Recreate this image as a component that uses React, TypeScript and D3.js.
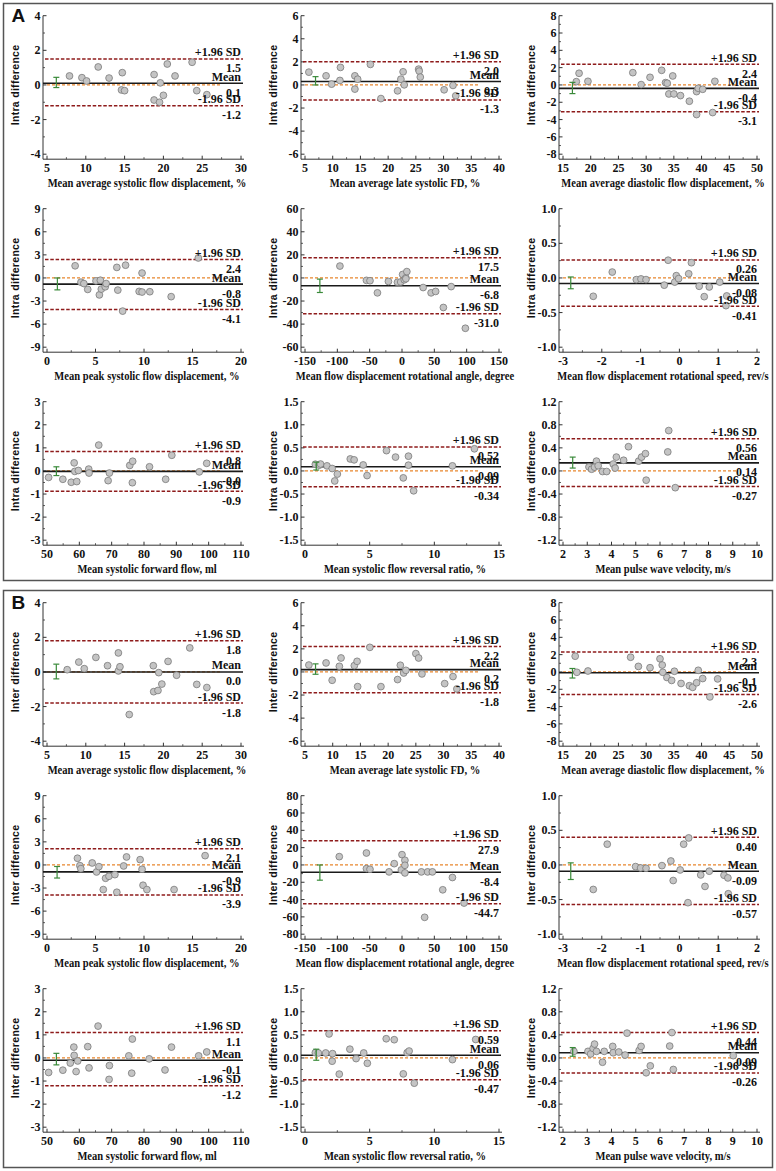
import React from 'react';
import * as d3 from 'd3';

// ---- measurements (one per column/row position, same order in A and B) ----
const xTitles = [
  'Mean average systolic flow displacement, %',
  'Mean average late systolic FD, %',
  'Mean average diastolic flow displacement, %',
  'Mean peak systolic flow displacement, %',
  'Mean flow displacement rotational angle, degree',
  'Mean flow displacement rotational speed, rev/s',
  'Mean systolic forward flow, ml',
  'Mean systolic flow reversal ratio, %',
  'Mean pulse wave velocity, m/s',
];
const xDomains = [[5, 30], [5, 40], [15, 50], [0, 20], [-150, 150], [-3, 2], [50, 110], [0, 15], [2, 10]];
const xSteps = [5, 5, 5, 5, 50, 1, 10, 5, 1];
const yMaxIntra = [4, 6, 8, 9, 60, 1, 3, 1.5, 1.2];
const yMaxInter = [4, 6, 8, 9, 80, 1, 3, 1.5, 1.2];
const ySteps = [2, 2, 2, 3, 20, 0.5, 1, 0.5, 0.4];
const valueDecimals = [1, 1, 1, 1, 1, 2, 1, 2, 2];

// ---- limits of agreement: [+1.96 SD, mean, -1.96 SD] ----
const intraLimits = [
  [1.5, 0.1, -1.2], [2.0, 0.3, -1.3], [2.4, -0.4, -3.1],
  [2.4, -0.8, -4.1], [17.5, -6.8, -31.0], [0.26, -0.08, -0.41],
  [0.84, -0.02, -0.88], [0.52, 0.09, -0.34], [0.56, 0.14, -0.27],
];
const interLimits = [
  [1.8, 0.0, -1.8], [2.2, 0.2, -1.8], [2.3, -0.1, -2.6],
  [2.1, -0.9, -3.9], [27.9, -8.4, -44.7], [0.40, -0.09, -0.57],
  [1.1, -0.1, -1.2], [0.59, 0.06, -0.47], [0.44, 0.09, -0.26],
];

// ---- 95% CI of the mean bias: [x position, low, high] ----
const intraCI = [
  [6.2, -0.15, 0.44], [6.9, 0.0, 0.72], [16.7, -1.0, 0.3],
  [1.07, -1.55, 0.0], [-127, -12.6, -1.0], [-2.8, -0.156, 0.014],
  [52.9, -0.2, 0.18], [0.87, 0.02, 0.19], [2.4, 0.05, 0.24],
];
const interCI = [
  [6.2, -0.4, 0.45], [6.9, -0.2, 0.7], [16.7, -0.7, 0.4],
  [1.04, -1.7, -0.2], [-127, -17.6, 0.0], [-2.8, -0.21, 0.03],
  [52.9, -0.3, 0.2], [0.87, -0.05, 0.19], [2.4, 0.03, 0.18],
];

// ---- points [mean, difference] ----
const intra1 = [[7.9, 0.52], [9.5, 0.42], [10.1, 0.23], [11.6, 1.04], [13.0, 0.4], [14.7, 0.71], [14.6, -0.29], [15.0, -0.33], [18.8, 0.6], [18.8, -0.87], [19.6, 0.12], [19.5, -1.0], [20.0, -0.6], [20.5, 1.21], [21.5, 0.52], [23.7, 1.31], [24.3, -0.33], [25.6, -0.56]];
const intra2 = [[5.7, 1.11], [8.8, 0.79], [9.8, 0.07], [11.4, 1.52], [11.3, 0.39], [14.0, 0.79], [14.5, 0.5], [14.0, -0.36], [16.8, 1.78], [18.7, -1.18], [21.7, -0.51], [22.3, 0.5], [22.7, 1.14], [22.9, 0.01], [25.5, 1.37], [25.6, 1.2], [25.8, 0.68], [30.1, -0.42], [31.7, -0.04], [32.2, -0.94]];
const intra3 = [[17.4, 0.38], [17.9, 1.35], [19.5, 0.42], [27.6, 1.42], [29.1, 0.04], [30.7, 0.88], [32.8, 1.69], [33.5, 0.27], [33.8, 0.2], [34.8, 1.04], [34.1, -1.04], [35.0, -1.04], [36.2, -1.23], [37.8, -1.88], [39.1, -0.77], [39.4, -0.38], [40.2, -0.5], [39.1, -3.42], [42.0, -3.19], [42.4, 0.42]];
const intra4 = [[2.9, 1.58], [3.5, -0.55], [3.8, -0.73], [4.2, -1.49], [5.05, -0.38], [5.4, -2.2], [5.5, -0.3], [5.6, -1.45], [6.0, -1.15], [6.1, -0.73], [7.2, 1.37], [7.3, -1.58], [7.8, -4.31], [8.1, 1.66], [9.5, -1.75], [9.8, -1.83], [9.8, 0.64], [10.6, -1.79], [12.8, -2.43], [15.6, 2.6]];
const intra5 = [[-96, 10.3], [-55, -2.1], [-49.5, -2.4], [-38, -12.9], [-21, -3.0], [-7, -3.8], [-2, -3.5], [1, 3.0], [3.5, -1.6], [6, 0.14], [7.5, 5.5], [6, -0.7], [32.7, -8.3], [45, -12.9], [52, -11.7], [64, -25.6], [76, -7.5], [98, -43.6]];
const intra6 = [[-2.22, -0.265], [-1.73, 0.085], [-1.11, -0.024], [-0.99, -0.014], [-0.86, -0.024], [-0.39, -0.104], [-0.29, 0.256], [-0.12, -0.06], [-0.08, 0.033], [-0.02, -0.01], [0.24, 0.06], [0.31, 0.22], [0.51, -0.12], [0.64, -0.27], [0.77, -0.13], [1.04, -0.06], [1.22, -0.26], [1.2, -0.4]];
const intra7 = [[50.5, -0.28], [54.9, -0.36], [57.5, -0.49], [58.4, 0.35], [58.6, -0.02], [59.2, -0.46], [59.7, 0.02], [62.9, 0.08], [63.0, -0.09], [66.0, 1.12], [68.9, -0.42], [69.3, -0.09], [75.6, 0.24], [76.5, 0.42], [76.4, -0.51], [81.7, 0.18], [86.7, -0.36], [88.6, 0.68], [97.1, -0.04], [99.4, 0.33]];
const intra8 = [[0.8, 0.146], [1.1, 0.125], [1.2, 0.15], [1.7, 0.11], [2.1, 0.053], [2.3, -0.217], [2.5, -0.068], [3.5, 0.26], [3.8, 0.24], [4.5, 0.13], [4.8, -0.1], [6.3, 0.44], [7.0, 0.3], [7.6, -0.15], [8.0, 0.32], [8.0, 0.125], [8.4, -0.43], [11.4, 0.11], [13.1, 0.48]];
const intra9 = [[3.07, 0.07], [3.18, 0.03], [3.3, 0.066], [3.38, 0.17], [3.45, 0.09], [3.63, -0.01], [3.8, -0.01], [4.07, 0.12], [4.2, 0.24], [4.15, 0.05], [4.5, 0.185], [4.7, 0.42], [5.12, 0.17], [5.24, 0.24], [5.4, 0.3], [5.43, -0.16], [6.32, 0.33], [6.36, 0.7], [6.63, -0.29]];

const inter1 = [[7.6, 0.13], [9.1, 0.57], [9.8, 0.19], [11.3, 0.84], [12.8, 0.36], [14.2, 1.1], [14.2, 0.06], [14.4, 0.3], [15.6, -2.46], [18.7, 0.36], [18.75, -1.14], [19.3, -1.07], [19.4, -0.04], [19.8, -0.7], [20.6, 0.61], [21.7, -0.19], [23.4, 1.39], [24.3, -0.72], [25.6, -0.9]];
const inter2 = [[5.7, 0.6], [8.8, 0.78], [9.9, -0.72], [11.2, 0.49], [11.5, 1.21], [13.9, 0.55], [14.4, 0.92], [14.5, -1.27], [16.7, 2.13], [18.7, -1.27], [21.7, -0.66], [22.2, 0.58], [22.8, -0.09], [23.2, 0.14], [25.0, 1.59], [25.5, 1.21], [26.1, -0.17], [30.2, -1.01], [31.7, -0.4], [32.4, -1.47]];
const inter3 = [[17.2, 1.82], [17.5, -0.04], [19.5, 0.11], [27.2, 1.7], [28.6, 0.64], [30.7, 0.49], [32.5, 1.52], [32.9, 0.8], [33.0, -0.04], [33.75, -0.64], [34.6, -0.98], [35.1, 0.08], [36.3, -1.33], [37.8, -1.59], [38.4, -1.78], [39.4, 0.19], [39.1, -1.25], [40.2, -0.76], [41.5, -2.88], [42.9, -0.8]];
const inter4 = [[3.14, 0.87], [3.39, -0.09], [3.49, -0.48], [4.66, 0.26], [5.11, -0.91], [5.35, -0.22], [5.8, -3.2], [6.04, -1.73], [6.39, -1.47], [7.0, -1.26], [7.2, -3.55], [7.9, -0.13], [8.2, 1.04], [9.6, 0.69], [9.8, -0.56], [9.9, -2.64], [10.3, -3.2], [13.1, -3.2], [16.3, 1.21]];
const inter5 = [[-97, 9.6], [-55, 13.8], [-55, -4.2], [-49.5, -5.0], [-20, -8.0], [-12, 1.5], [-1, -5.7], [0, 11.9], [4.5, 5.4], [4.5, -0.4], [4.5, -9.2], [30, -8.0], [39.6, -8.0], [47, -8.0], [78, -14.5], [63, -28.7], [35, -60.5], [96, -44]];
const inter6 = [[-2.22, -0.354], [-1.86, 0.3], [-1.13, -0.024], [-1.0, -0.043], [-0.86, -0.048], [-0.45, -0.01], [-0.22, 0.057], [-0.16, -0.225], [0.02, -0.072], [0.11, 0.3], [0.24, 0.39], [0.22, -0.545], [0.55, -0.144], [0.66, -0.31], [0.77, -0.09], [1.15, -0.148], [1.25, -0.187], [1.26, -0.416]];
const inter7 = [[50.5, -0.63], [54.9, -0.53], [57.2, -0.22], [58.3, 0.47], [58.4, 0.11], [59.0, -0.59], [59.5, -0.13], [62.6, 0.49], [63.0, -0.43], [65.8, 1.38], [69.3, -0.33], [69.2, -0.93], [75.3, 0.09], [76.4, 0.82], [76.2, -0.66], [81.6, -0.04], [86.5, -0.52], [88.5, 0.47], [96.9, 0.09], [99.4, 0.26]];
const inter8 = [[0.8, 0.115], [1.03, 0.108], [1.6, 0.108], [1.86, 0.52], [2.13, 0.093], [2.1, -0.07], [2.65, -0.35], [3.47, 0.19], [3.95, -0.014], [4.54, 0.108], [4.82, -0.115], [6.28, 0.416], [6.9, 0.395], [7.6, -0.345], [7.9, 0.115], [8.05, 0.15], [8.45, -0.546], [11.4, -0.036], [13.2, 0.4]];
const inter9 = [[2.45, 0.114], [3.03, 0.114], [3.14, 0.069], [3.24, 0.166], [3.3, 0.24], [3.38, 0.114], [3.63, -0.074], [3.7, 0.114], [4.05, 0.2], [4.07, 0.09], [4.3, 0.103], [4.56, 0.05], [4.64, 0.43], [5.14, 0.13], [5.22, 0.2], [5.43, -0.257], [5.6, -0.137], [6.4, 0.206], [6.49, 0.44], [6.55, -0.2], [9.02, 0.04]];

const intraPoints = [intra1, intra2, intra3, intra4, intra5, intra6, intra7, intra8, intra9];
const interPoints = [inter1, inter2, inter3, inter4, inter5, inter6, inter7, inter8, inter9];

const SERIF = '"Liberation Serif", "Times New Roman", serif';
const SANS = '"Liberation Sans", Arial, sans-serif';
const W = 194;
const H = 138.5;

function BAPlot({ left, top, m, yMax, limits, ci, points, yTitle }) {
  const x = d3.scaleLinear().domain(xDomains[m]).range([left, left + W]);
  const y = d3.scaleLinear().domain([-yMax, yMax]).range([top + H, top]);
  const axisX = left - 4;
  const axisY = top + H + 5;
  const right = left + W;

  const yStep = ySteps[m];
  const nY = Math.round(yMax / yStep);
  const yTicks = d3.range(-nY, nY + 1).map(i => i * yStep);
  const yMinor = d3.range(-nY, nY).map(i => (i + 0.5) * yStep);
  const yDec = yStep < 1 ? 1 : 0;

  const [x0, x1] = xDomains[m];
  const xStep = xSteps[m];
  const xTicks = d3.range(x0, x1 + xStep / 2, xStep);
  const xMinor = d3.range(x0 + xStep / 2, x1, xStep);

  const dec = valueDecimals[m];
  const [upper, mean, lower] = limits;
  const labelRows = [['+1.96 SD', upper], ['Mean', mean], ['-1.96 SD', lower]];

  return (
    <g>
      {/* y axis */}
      <line x1={axisX} x2={axisX} y1={top} y2={axisY} stroke="#333" strokeWidth={1} />
      {yTicks.map((t, i) => (
        <g key={'yt' + i}>
          <line x1={axisX} x2={axisX + 3.5} y1={y(t)} y2={y(t)} stroke="#333" strokeWidth={1} />
          <text x={axisX - 2.5} y={y(t) + 4} textAnchor="end" fontSize={12} fontWeight="bold" fontFamily={SERIF} fill="#111">
            {t.toFixed(yDec)}
          </text>
        </g>
      ))}
      {yMinor.map((t, i) => (
        <line key={'ym' + i} x1={axisX} x2={axisX + 2} y1={y(t)} y2={y(t)} stroke="#333" strokeWidth={0.8} />
      ))}
      <text transform={`translate(${axisX - 24.5},${top + H / 2}) rotate(-90)`} textAnchor="middle" fontSize={10.5}
        fontWeight="bold" fontFamily={SANS} letterSpacing={0.3} fill="#111">{yTitle}</text>

      {/* x axis */}
      <line x1={axisX} x2={right + 3} y1={axisY} y2={axisY} stroke="#333" strokeWidth={1} />
      {xTicks.map((t, i) => (
        <g key={'xt' + i}>
          <line x1={x(t)} x2={x(t)} y1={axisY} y2={axisY - 3.5} stroke="#333" strokeWidth={1} />
          <text x={x(t)} y={axisY + 13} textAnchor="middle" fontSize={12} fontWeight="bold" fontFamily={SERIF} fill="#111">{t}</text>
        </g>
      ))}
      {xMinor.map((t, i) => (
        <line key={'xm' + i} x1={x(t)} x2={x(t)} y1={axisY} y2={axisY - 2} stroke="#333" strokeWidth={0.8} />
      ))}
      <text transform={`translate(${left + W / 2 + 3},${axisY + 28}) scale(0.88,1)`} textAnchor="middle" fontSize={12}
        fontWeight="bold" fontFamily={SERIF} fill="#111">{xTitles[m]}</text>

      {/* reference lines */}
      <line x1={left} x2={left + W * 0.9} y1={y(0)} y2={y(0)} stroke="#e8862e" strokeWidth={1.3} strokeDasharray="3,2" />
      <line x1={left - 2} x2={right + 2} y1={y(upper)} y2={y(upper)} stroke="#8e1b1b" strokeWidth={1.5} strokeDasharray="3.5,1.8" />
      <line x1={left - 2} x2={right + 2} y1={y(lower)} y2={y(lower)} stroke="#8e1b1b" strokeWidth={1.5} strokeDasharray="3.5,1.8" />
      <line x1={axisX} x2={right + 2} y1={y(mean)} y2={y(mean)} stroke="#1a1a1a" strokeWidth={1.6} />

      {/* points */}
      {points.map((p, i) => (
        <circle key={'p' + i} cx={x(p[0])} cy={y(p[1])} r={3.4} fill="#c4c4c4" stroke="#7a7a7a" strokeWidth={0.8} />
      ))}

      {/* CI of bias */}
      <g stroke="#3a8a3a" strokeWidth={1.2}>
        <line x1={x(ci[0])} x2={x(ci[0])} y1={y(ci[1])} y2={y(ci[2])} />
        <line x1={x(ci[0]) - 3} x2={x(ci[0]) + 3} y1={y(ci[1])} y2={y(ci[1])} />
        <line x1={x(ci[0]) - 3} x2={x(ci[0]) + 3} y1={y(ci[2])} y2={y(ci[2])} />
      </g>

      {/* labels */}
      {labelRows.map(([lab, v], i) => (
        <g key={'lab' + i} fontSize={12} fontWeight="bold" fontFamily={SERIF} fill="#111" textAnchor="end">
          <text x={right} y={y(v) - 2.5}>{lab}</text>
          <text x={right} y={y(v) + 13.5}>{v.toFixed(dec)}</text>
        </g>
      ))}
    </g>
  );
}

function Panel({ top, letter, yTitle, yMaxes, limits, cis, pts }) {
  return (
    <g>
      <rect x={3.5} y={top + 0.5} width={769} height={577} fill="none" stroke="#555" strokeWidth={1.5} />
      <text x={11.5} y={top + 18.5} fontSize={19} fontWeight="bold" fontFamily={SANS} fill="#111">{letter}</text>
      {xTitles.map((_, m) => {
        const col = m % 3;
        const row = Math.floor(m / 3);
        return (
          <BAPlot key={m} left={47 + col * 258} top={top + 12.7 + row * 193} m={m} yMax={yMaxes[m]}
            limits={limits[m]} ci={cis[m]} points={pts[m]} yTitle={yTitle} />
        );
      })}
    </g>
  );
}

export default function App() {
  return (
    <div style={{ position: 'absolute', left: 0, top: 0, background: '#fff' }}>
      <svg width={776} height={1171} viewBox="0 0 776 1171">
        <rect width={776} height={1171} fill="#fff" />
        <Panel top={3} letter="A" yTitle="Intra difference" yMaxes={yMaxIntra} limits={intraLimits} cis={intraCI} pts={intraPoints} />
        <Panel top={590} letter="B" yTitle="Inter difference" yMaxes={yMaxInter} limits={interLimits} cis={interCI} pts={interPoints} />
      </svg>
    </div>
  );
}
